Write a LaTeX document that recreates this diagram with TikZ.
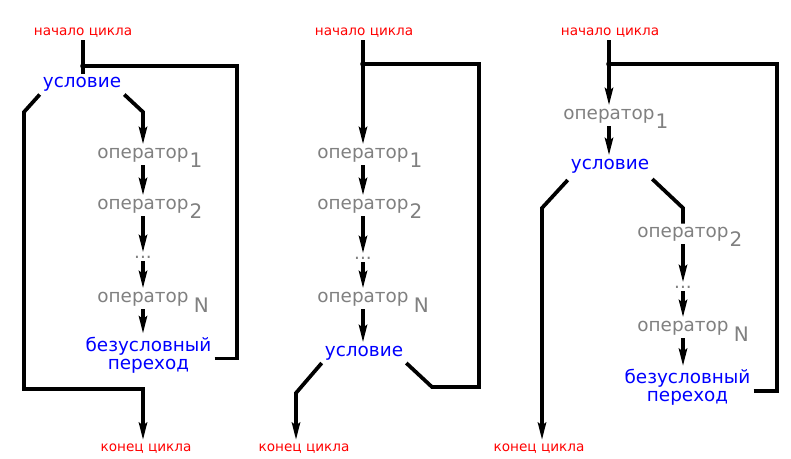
\documentclass[tikz,border=0pt]{standalone}
\usepackage{fontspec}
\setmainfont{DejaVu Sans}
\usetikzlibrary{arrows.meta,calc}
\newcommand\opsub[1]{\smash{\rlap{\kern0.8pt\raisebox{-7pt}{\fontsize{15pt}{15pt}\selectfont #1}}}}
\newcommand\opsubN[1]{\smash{\rlap{\kern4pt\raisebox{-8pt}{\fontsize{15pt}{15pt}\selectfont #1}}}}
\begin{document}
\begin{tikzpicture}[x=0.75pt,y=-0.75pt,
  line width=2.8pt,
  every node/.style={inner sep=1pt,anchor=base},
  lbl/.style={text=red,font=\fontsize{10.2pt}{12pt}\selectfont},
  cnd/.style={text=blue,font=\fontsize{13.8pt}{13.5pt}\selectfont},
  opr/.style={text={rgb,255:red,128;green,128;blue,128},font=\fontsize{13.8pt}{14pt}\selectfont},
  jmp/.style={cnd,align=center,anchor=center},
  arr/.style={-{Stealth[length=13pt,width=6pt,inset=2pt]}},
  jdot/.style={fill=black}]
\fill[white] (0,0) rectangle (791,458);
\useasboundingbox (0,0) rectangle (791,458);

% ---------- diagram 1 ----------
\node[lbl] (s1) at (83,35) {начало цикла};
\node[cnd] (c1) at (82,87.5) {условие};
\node[opr] (o11) at (143,158) {оператор\opsub{1}};
\node[opr] (o12) at (143,209) {оператор\opsub{2}};
\node[opr] (d1) at (143,258) {...};
\node[opr] (o1n) at (143,302) {оператор\opsubN{N}};
\node[jmp] (b1) at (148.5,355) {безусловный\\переход};
\node[lbl] (e1) at (146,451) {конец цикла};
\coordinate (j1) at (83,66);
\coordinate (r1) at (143,112);
\coordinate (l1) at (24,112);
\coordinate (m1) at (24,389);
\coordinate (n1) at (143,389);
\coordinate (k1) at (237,66);

\draw (s1.south) -- (s1.south |- c1.north);
\fill[jdot] (j1) circle (2.8);
\draw[arr] (c1.south east) -- (r1) -- (o11.north);
\draw[arr] (o11.south) -- (o12.north);
\draw[arr] (o12.south) -- (d1.north);
\draw[arr] (d1.south) -- (o1n.north);
\draw[arr] (o1n.south) -- (o1n.south |- b1.north);
\draw ($(b1.east)+(0,3.5)$) -| (k1) -- (j1);
\draw[arr] (c1.south west) -- (l1) -- (m1) -- (n1) -- (n1 |- e1.north);

% ---------- diagram 2 ----------
\node[lbl] (s2) at (364,35) {начало цикла};
\node[opr] (o21) at (363,158) {оператор\opsub{1}};
\node[opr] (o22) at (363,209) {оператор\opsub{2}};
\node[opr] (d2) at (363,259) {...};
\node[opr] (o2n) at (363,302) {оператор\opsubN{N}};
\node[cnd] (c2) at (364,356) {условие};
\node[lbl] (e2) at (304,451) {конец цикла};
\coordinate (j2) at (363,64);
\coordinate (l2) at (296,393);
\coordinate (r2) at (432,387);
\coordinate (k2) at (479,64);

\draw[arr] (o21.north |- s2.south) -- (o21.north);
\fill[jdot] (j2) circle (2.8);
\draw[arr] (o21.south) -- (o22.north);
\draw[arr] (o22.south) -- (d2.north);
\draw[arr] (d2.south) -- (o2n.north);
\draw[arr] (o2n.south) -- (o2n.south |- c2.north);
\draw[arr] (c2.south west) -- (l2) -- (l2 |- e2.north);
\draw (c2.south east) -- (r2) -| (k2) -- (j2);

% ---------- diagram 3 ----------
\node[lbl] (s3) at (610,35) {начало цикла};
\node[opr] (o31) at (609,119) {оператор\opsub{1}};
\node[cnd] (c3) at (610,169) {условие};
\node[opr] (o32) at (683,237) {оператор\opsub{2}};
\node[opr] (d3) at (683,288) {...};
\node[opr] (o3n) at (683,331) {оператор\opsubN{N}};
\node[jmp] (b3) at (687.5,387.5) {безусловный\\переход};
\node[lbl] (e3) at (539,451) {конец цикла};
\coordinate (j3) at (609,64);
\coordinate (l3) at (542,208);
\coordinate (r3) at (683,208);
\coordinate (k3) at (777,64);

\draw[arr] (o31.north |- s3.south) -- (o31.north);
\fill[jdot] (j3) circle (2.8);
\draw[arr] (o31.south) -- (o31.south |- c3.north);
\draw[arr] ($(c3.south west)+(0,4)$) -- (l3) -- (l3 |- e3.north);
\draw ($(c3.south east)+(0,3)$) -- (r3) -- (o32.north);
\draw[arr] (o32.south) -- (d3.north);
\draw[arr] (d3.south) -- (o3n.north);
\draw[arr] (o3n.south) -- (o3n.south |- b3.north);
\draw ($(b3.east)+(0,3.5)$) -| (k3) -- (j3);
\end{tikzpicture}
\end{document}
